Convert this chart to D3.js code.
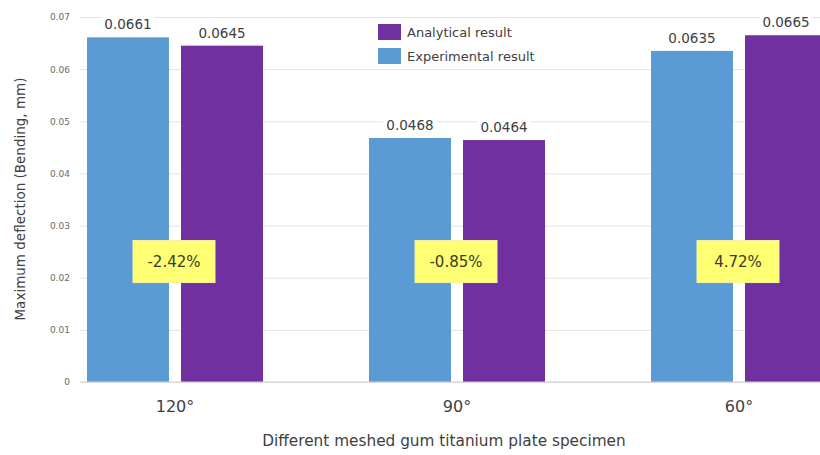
<!DOCTYPE html>
<html><head><meta charset="utf-8">
<script src="https://cdn.jsdelivr.net/npm/d3@7"></script>
<style>body{margin:0;background:#fff;} svg{display:block;font-family:"DejaVu Sans",sans-serif;}</style>
</head><body>
<svg id="c" width="820" height="455"></svg>
<script>
const categories = ["120\u00B0", "90\u00B0", "60\u00B0"];
const experimental = [0.0661, 0.0468, 0.0635];
const analytical = [0.0645, 0.0464, 0.0665];
const differences = ["-2.42%", "-0.85%", "4.72%"];
const yTicks = [0, 0.01, 0.02, 0.03, 0.04, 0.05, 0.06, 0.07];
const seriesNames = ["Experimental result", "Analytical result"];
const seriesColors = ["#5B9BD5", "#7030A0"];

const svg = d3.select("#c");
const plotL = 80, plotR = 820;
const y = d3.scaleLinear().domain([0, 0.07]).range([382, 17]);
const x0 = d3.scaleBand().domain(categories).range([34, 880]).padding(0);
const x1 = d3.scaleBand().domain(seriesNames).range([53, 229]).paddingInner(0.128).paddingOuter(0);
const color = d3.scaleOrdinal().domain(seriesNames).range(seriesColors);

// gridlines
const yAxis = d3.axisLeft(y).tickValues(yTicks).tickFormat(d => d === 0 ? "0" : d3.format(".2f")(d))
  .tickSize(-(plotR - plotL)).tickPadding(10);
const gy = svg.append("g").attr("transform", `translate(${plotL},0)`).call(yAxis);
gy.select(".domain").remove();
gy.selectAll(".tick line").attr("stroke", "#e3e3e3").attr("stroke-width", 1);
gy.selectAll(".tick text").attr("fill", "#6a6a6a").style("font-size", "9px").attr("font-family", "DejaVu Sans");

const rows = categories.map((c, i) => ({cat: c, vals: [
  {s: seriesNames[0], v: experimental[i]}, {s: seriesNames[1], v: analytical[i]}], diff: differences[i]}));

const groups = svg.append("g").selectAll("g").data(rows).join("g")
  .attr("transform", d => `translate(${x0(d.cat)},0)`);
groups.selectAll("rect.bar").data(d => d.vals).join("rect").attr("class", "bar")
  .attr("x", d => x1(d.s)).attr("width", x1.bandwidth())
  .attr("y", d => y(d.v)).attr("height", d => y(0) - y(d.v))
  .attr("fill", d => color(d.s));

// x axis baseline
svg.append("line").attr("x1", plotL).attr("x2", plotR).attr("y1", y(0)).attr("y2", y(0))
  .attr("stroke", "#d0d0d0");

// value labels with white background
groups.selectAll("g.lbl").data(d => d.vals).join("g").attr("class", "lbl").each(function(d) {
  const g = d3.select(this);
  const cx = x1(d.s) + x1.bandwidth() / 2, cy = y(d.v) - 13;
  const t = g.append("text").attr("x", cx).attr("y", cy).attr("text-anchor", "middle")
    .attr("dominant-baseline", "central").attr("fill", "#404040").style("font-size", "13.5px")
    .text(d.v.toFixed(4));
  const bb = t.node().getBBox();
  g.insert("rect", "text").attr("x", bb.x - 3).attr("y", bb.y - 1).attr("width", bb.width + 6)
    .attr("height", bb.height + 2).attr("fill", "#fff");
});

// difference boxes
groups.each(function(d) {
  const g = d3.select(this);
  const cx = x0.bandwidth() / 2 - 1, cy = y(0.0231);
  g.append("rect").attr("x", cx - 41).attr("y", cy - 21).attr("width", 82).attr("height", 42)
    .attr("fill", "#FFFF73").attr("stroke", "#f4f4a0").attr("stroke-width", 1);
  g.append("text").attr("x", cx).attr("y", cy).attr("text-anchor", "middle")
    .attr("dominant-baseline", "central").attr("fill", "#3a3a2a").style("font-size", "15px")
    .text(d.diff);
});

// x category labels
svg.append("g").selectAll("text").data(categories).join("text")
  .attr("x", d => x0(d) + x0.bandwidth() / 2).attr("y", 406).attr("text-anchor", "middle")
  .attr("dominant-baseline", "central").attr("fill", "#404040").style("font-size", "16px").text(d => d);

// axis titles
svg.append("text").attr("x", 444).attr("y", 441).attr("text-anchor", "middle")
  .attr("dominant-baseline", "central").attr("fill", "#404040").style("font-size", "15.3px")
  .text("Different meshed gum titanium plate specimen");
svg.append("text").attr("transform", "translate(20,199) rotate(-90)").attr("text-anchor", "middle")
  .attr("dominant-baseline", "central").attr("fill", "#404040").style("font-size", "13.5px")
  .text("Maximum deflection (Bending, mm)");

// legend
const legendOrder = [seriesNames[1], seriesNames[0]];
const lg = svg.append("g").selectAll("g").data(legendOrder).join("g")
  .attr("transform", (d, i) => `translate(378,${24 + i * 24})`);
lg.append("rect").attr("width", 23).attr("height", 16).attr("fill", d => color(d));
lg.append("text").attr("x", 29).attr("y", 8).attr("dominant-baseline", "central")
  .attr("fill", "#404040").style("font-size", "13px").text(d => d);
</script>
</body></html>
